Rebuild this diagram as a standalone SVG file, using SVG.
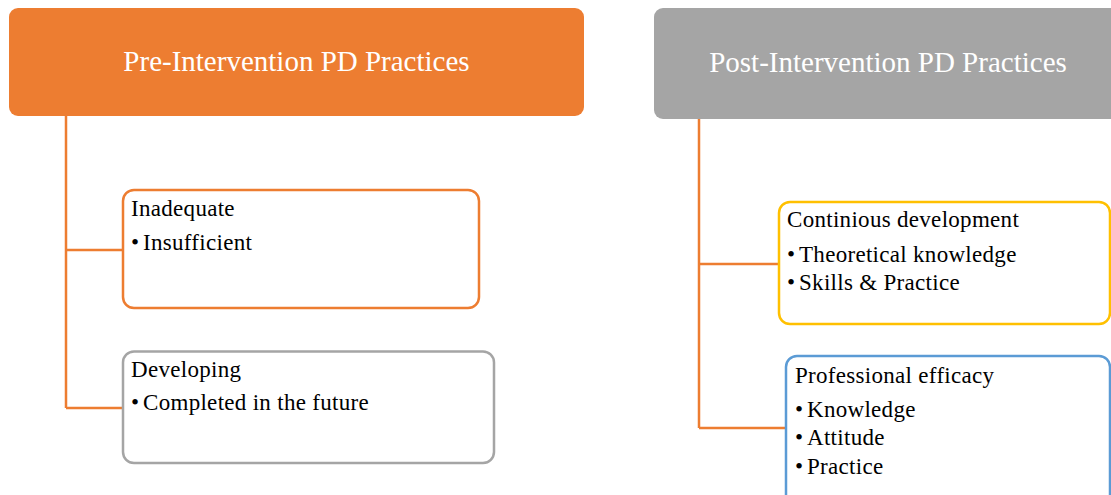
<svg xmlns="http://www.w3.org/2000/svg" width="1111" height="495" viewBox="0 0 1111 495">
  <style>
    .head { font-family: "Liberation Serif", "Times New Roman", serif; font-size: 29px; fill: #ffffff; text-anchor: middle; }
    .txt { font-family: "Liberation Serif", "Times New Roman", serif; font-size: 23px; fill: #000000; letter-spacing: 0.3px; }
    .box { fill: #ffffff; stroke-width: 2.5; }
    .conn { fill: none; stroke: #ED7D31; stroke-width: 2.5; }
  </style>
  <rect width="1111" height="495" fill="#ffffff"/>

  <!-- connectors -->
  <g id="connectors">
    <path class="conn" d="M66,116 V408 M66,250 H123 M66,408 H123"/>
    <path class="conn" d="M699,119 V428 M699,264 H779 M699,428 H786"/>
  </g>

  <!-- headers -->
  <g id="pre-header">
    <rect x="9" y="8" width="575" height="108" rx="9" fill="#ED7D31"/>
    <text class="head" x="296.5" y="71">Pre-Intervention PD Practices</text>
  </g>
  <g id="post-header">
    <rect x="654" y="8" width="470" height="111" rx="9" fill="#A5A5A5"/>
    <text class="head" x="888" y="72">Post-Intervention PD Practices</text>
  </g>

  <!-- pre-intervention items -->
  <g id="inadequate">
    <rect class="box" x="123" y="190" width="356" height="118" rx="11" stroke="#ED7D31"/>
    <text class="txt" x="131" y="216">Inadequate</text>
    <text class="txt" x="131" y="250">•</text>
    <text class="txt" x="143" y="250">Insufficient</text>
  </g>
  <g id="developing">
    <rect class="box" x="123" y="351.5" width="371" height="111.5" rx="11" stroke="#A5A5A5"/>
    <text class="txt" x="131" y="377">Developing</text>
    <text class="txt" x="131" y="410">•</text>
    <text class="txt" x="143" y="410">Completed in the future</text>
  </g>

  <!-- post-intervention items -->
  <g id="continuous">
    <rect class="box" x="779" y="202" width="331" height="122" rx="11" stroke="#FFC000"/>
    <text class="txt" x="787" y="227">Continious development</text>
    <text class="txt" x="787" y="262">•</text>
    <text class="txt" x="799" y="262">Theoretical knowledge</text>
    <text class="txt" x="787" y="290">•</text>
    <text class="txt" x="799" y="290">Skills &amp; Practice</text>
  </g>
  <g id="efficacy">
    <rect class="box" x="786" y="356" width="324" height="150" rx="11" stroke="#5B9BD5"/>
    <text class="txt" x="795" y="383">Professional efficacy</text>
    <text class="txt" x="795" y="417">•</text>
    <text class="txt" x="807" y="417">Knowledge</text>
    <text class="txt" x="795" y="445">•</text>
    <text class="txt" x="807" y="445">Attitude</text>
    <text class="txt" x="795" y="474">•</text>
    <text class="txt" x="807" y="474">Practice</text>
  </g>
</svg>
